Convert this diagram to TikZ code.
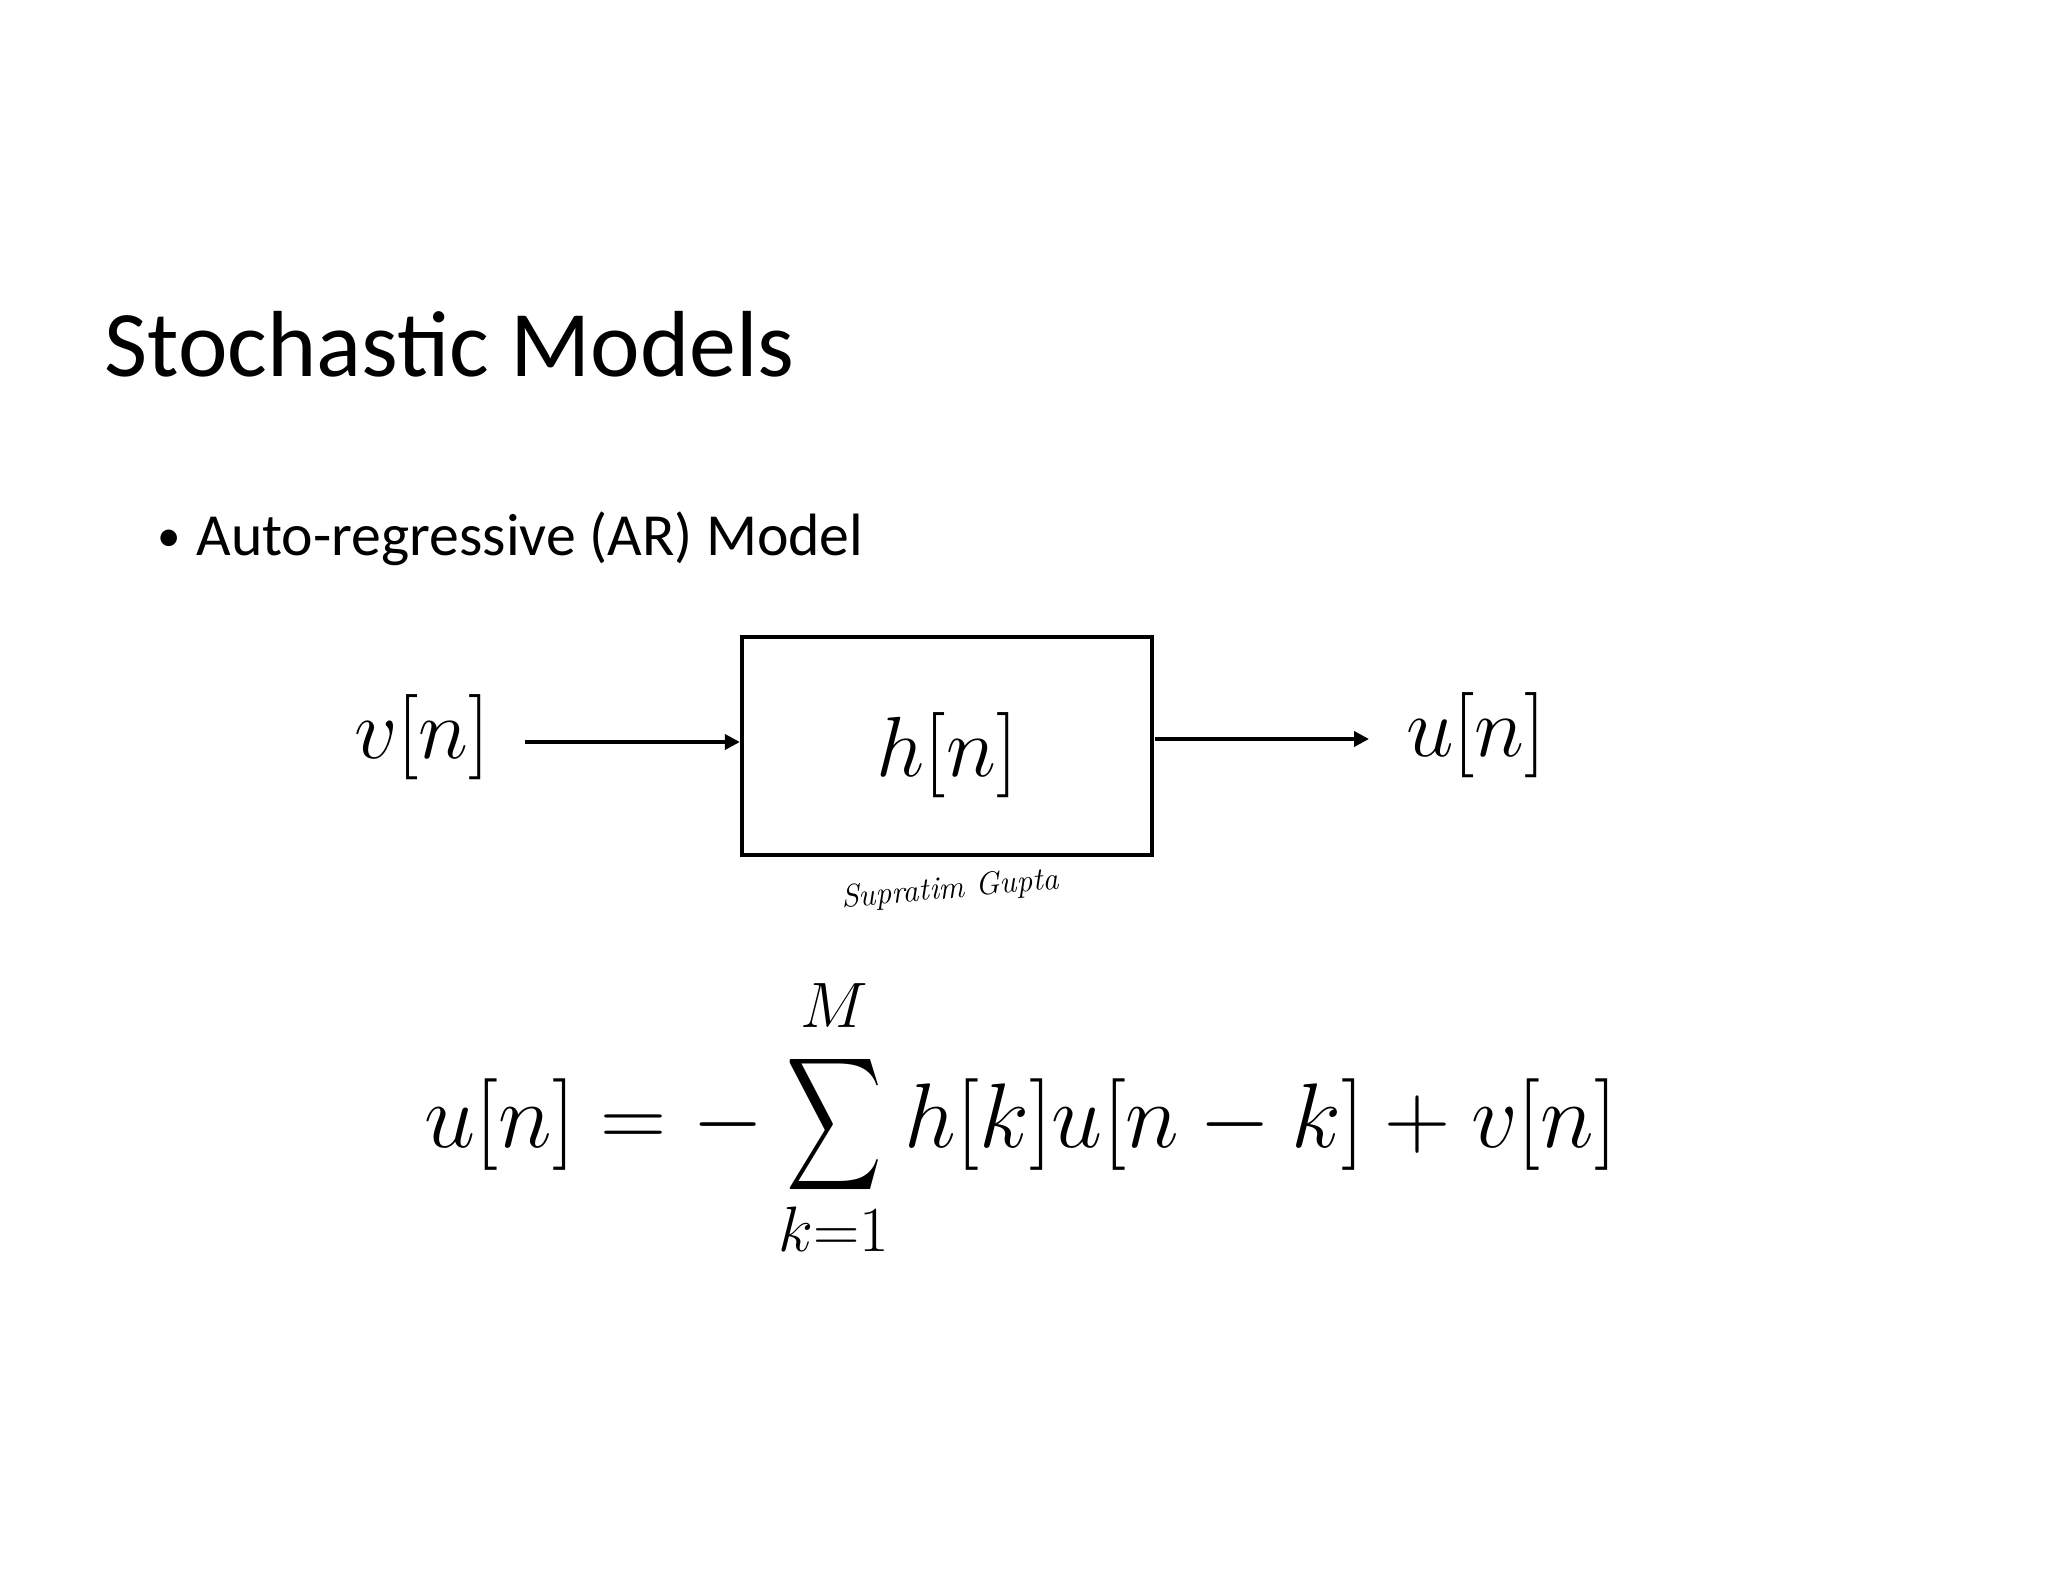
\documentclass[tikz,border=0pt]{standalone}
\usepackage{fix-cm}
\usepackage{amsmath}
\usepackage{graphicx}
\usepackage{fontspec}
\setmainfont{Carlito}
\newfontfamily\sigfont{Latin Modern Roman}
\usetikzlibrary{arrows.meta}
\newcommand{\bigsum}{\mathop{\vcenter{\hbox{\scalebox{1.25}[1.75]{$\displaystyle\sum$}}}}\limits}
\tikzset{
  px/.style={x=0.46875pt,y=-0.46875pt},
  blockbox/.style={draw=black,line width=2pt,minimum width=192.2pt,minimum height=102.2pt,inner sep=0pt},
  sigarrow/.style={line width=1.9pt,-{Triangle[length=7pt,width=7pt]}},
  mathlbl/.style={inner sep=0pt,anchor=base,font=\fontsize{40}{46}\selectfont},
  eqlbl/.style={inner sep=0pt,anchor=base,font=\fontsize{43}{50}\selectfont},
  titletext/.style={inner sep=0pt,anchor=base west,font=\fontsize{44}{52}\selectfont},
  bullettext/.style={inner sep=0pt,anchor=base west,font=\fontsize{28}{34}\selectfont},
  bulletmark/.style={inner sep=0pt,anchor=base west,font=\fontsize{22}{26}\selectfont},
  signature/.style={inner sep=0pt,font=\fontsize{15}{18}\sigfont\itshape}
}
\begin{document}
\begin{tikzpicture}[px]
\useasboundingbox (0,0) rectangle (2048,1582);
\fill[white] (0,0) rectangle (2048,1582);
\node[titletext] (title) at (104,376) {Stochastic Models};
\node[bulletmark] (bul) at (157,551) {•};
\node[bullettext] (item) at (196,555) {Auto-regressive (AR) Model};
\node[blockbox] (box) at (947,746) {};
\node[mathlbl] (hn) at (947,776) {$h[n]$};
\node[mathlbl] (vn) at (422,758) {$v[n]$};
\node[mathlbl] (un) at (1476,756) {$u[n]$};
\coordinate (a1) at (525,742);
\coordinate (b1) at (1155,739);
\coordinate (b2) at (1369,739);
\draw[sigarrow] (a1) -- (a1 -| box.west);
\draw[sigarrow] (b1) -- (b2);
\node[signature,rotate=5] (sig) at (950,890) {Supratim Gupta};
\node[eqlbl] (eq) at (1021,1147) {$\displaystyle u[n]=-\bigsum_{k=1}^{M\rule[-7.5pt]{0pt}{0pt}}h[k]u[n-k]+v[n]$};
\end{tikzpicture}
\end{document}
